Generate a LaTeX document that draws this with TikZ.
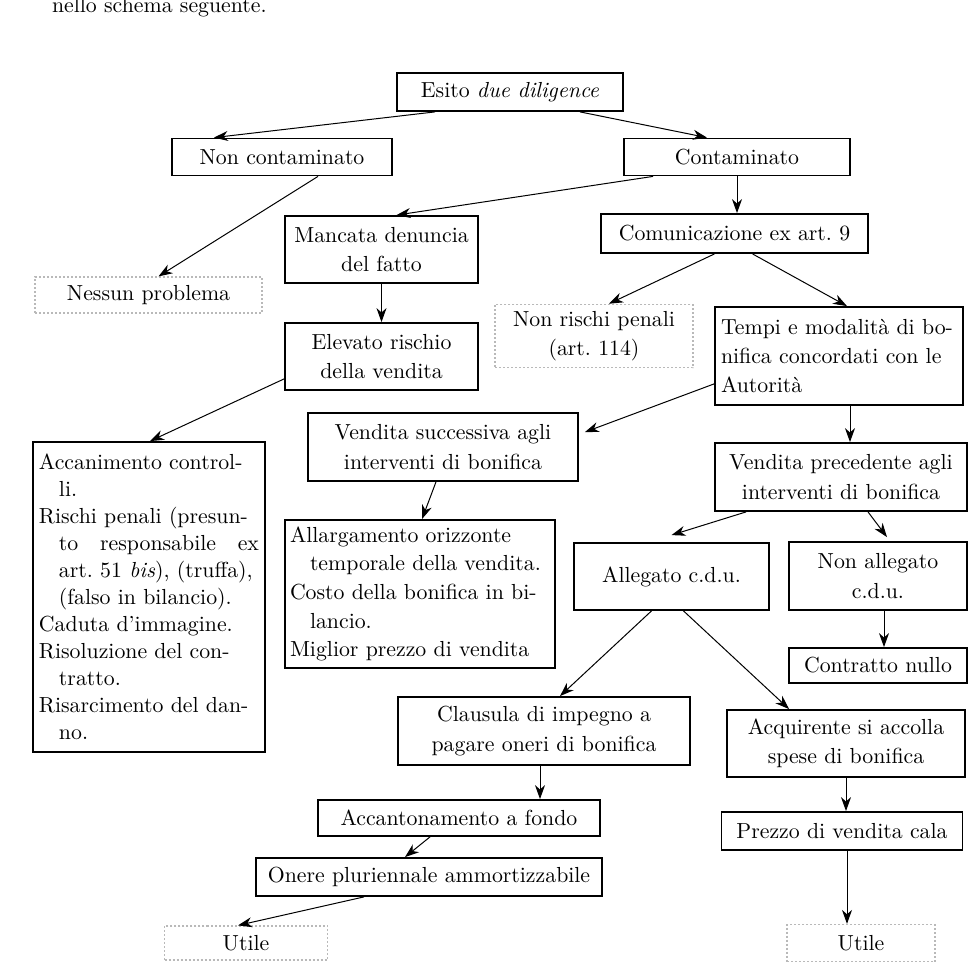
\documentclass[tikz,border=0pt]{standalone}
\usepackage{tikz}
\usetikzlibrary{arrows.meta,calc,positioning}

\tikzset{
  txt/.style={font=\fontsize{10.9}{14.7}\selectfont},
  box/.style={txt, draw, line width=0.9pt, align=center},
  faint/.style={txt, draw=gray!55, line width=0.6pt, dash pattern=on 1pt off 1pt, align=center},
  arr/.style={-{Stealth[length=7pt,width=5pt,inset=2.2pt]}, line width=0.5pt}
}

\begin{document}
\begin{tikzpicture}[x=0.5pt,y=-0.5pt]
    \useasboundingbox (0,0) rectangle (971,963);

    \node[txt, anchor=base west] (intro) at (45,13) {nello schema seguente.};

    % Top of the scheme
    \node[box, minimum width=113pt, minimum height=19pt] (esito) at (510,92) {Esito \textit{due diligence}};
    \node[box, minimum width=110pt, minimum height=18.5pt] (noncont) at (282,157) {Non contaminato};
    \node[box, minimum width=113pt, minimum height=18.5pt] (cont) at (737,157) {Contaminato};

    % Second level
    \node[box, minimum width=96.5pt, minimum height=33.5pt] (mancata) at (381.5,249.5) {Mancata denuncia\\del fatto};
    \node[box, minimum width=133.5pt, minimum height=19.5pt] (comun) at (734.5,233.5) {Comunicazione ex art.~9};
    \node[faint, minimum width=113.5pt, minimum height=18pt] (nessun) at (148.5,295) {Nessun problema};
    \node[box, minimum width=96.5pt, minimum height=33.5pt] (elevato) at (381.5,356.5) {Elevato rischio\\della vendita};
    \node[faint, minimum width=99pt, minimum height=31pt] (nonrischi) at (594,336) {Non rischi penali\\(art.~114)};
    \node[box, text width=118pt, inner xsep=3pt, minimum height=49pt, align=left] (tempi) at (839,356)
        {Tempi e modalità di bo-\\nifica concordati con le\\Autorità};

    % Sale before / after the clean-up
    \node[box, minimum width=135pt, minimum height=34pt] (vsucc) at (443,447) {Vendita successiva agli\\interventi di bonifica};
    \node[box, minimum width=126pt, minimum height=34pt] (vprec) at (841,477) {Vendita precedente agli\\interventi di bonifica};

    % Left column
    \node[box, text width=110pt, inner xsep=3pt, minimum height=155pt, align=left,
          font=\fontsize{10.9}{13.5}\selectfont] (accan) at (149,597)
        {Accanimento control-\\
         \hspace*{10pt}li.\\
         Rischi penali (presun-\\
         \hspace*{10pt}to\hfill responsabile\hfill ex\\
         \hspace*{10pt}art.~51 \textit{bis}), (truffa),\\
         \hspace*{10pt}(falso in bilancio).\\
         Caduta d'immagine.\\
         Risoluzione del con-\\
         \hspace*{10pt}tratto.\\
         Risarcimento del dan-\\
         \hspace*{10pt}no.};
    \node[box, text width=130pt, inner xsep=2.5pt, minimum height=74pt, align=left,
          font=\fontsize{10.9}{14.3}\selectfont] (allarg) at (420,594)
        {Allargamento orizzonte\\
         \hspace*{10pt}temporale della vendita.\\
         Costo della bonifica in bi-\\
         \hspace*{10pt}lancio.\\
         Miglior prezzo di vendita};

    % c.d.u. branch
    \node[box, minimum width=97.5pt, minimum height=33.5pt] (allegato) at (671.5,576.5) {Allegato c.d.u.};
    \node[box, minimum width=89pt, minimum height=34pt] (nonalleg) at (878,576) {Non allegato\\c.d.u.};
    \node[box, minimum width=89pt, minimum height=17.5pt] (nullo) at (878,665.5) {Contratto nullo};
    \node[box, minimum width=146pt, minimum height=34pt] (clausula) at (544,731) {Clausula di impegno a\\pagare oneri di bonifica};
    \node[box, minimum width=119pt, minimum height=33.5pt] (acquir) at (846,743.5) {Acquirente si accolla\\spese di bonifica};
    \node[box, minimum width=141pt, minimum height=18pt] (accant) at (459,818) {Accantonamento a fondo};
    \node[box, minimum width=173pt, minimum height=19pt] (onere) at (429,877) {Onere pluriennale ammortizzabile};
    \node[box, minimum width=120.5pt, minimum height=19pt] (prezzo) at (842,831) {Prezzo di vendita cala};
    \node[faint, minimum width=81.5pt, minimum height=17pt] (utileL) at (246,943) {Utile};
    \node[faint, minimum width=74pt, minimum height=18.5pt] (utileR) at (861,943) {Utile};

    % Connectors
    \draw[arr] ($(esito.south)+(-75,0)$) -- ($(noncont.north)+(-68,0)$);
    \draw[arr] ($(esito.south)+(70,0)$) -- ($(cont.north)+(-30,0)$);
    \draw[arr] ($(noncont.south)+(36,0)$) -- ($(nessun.north)+(10,0)$);
    \draw[arr] ($(cont.south west)+(30,0)$) -- ($(mancata.north)+(15,0)$);
    \draw[arr] (cont.south) -- (cont.south |- comun.north);
    \draw[arr] (mancata.south) -- (elevato.north);
    \draw[arr] ($(comun.south)+(-20,0)$) -- ($(nonrischi.north)+(15,0)$);
    \draw[arr] ($(comun.south)+(18,0)$) -- ($(tempi.north)+(8,0)$);
    \draw[arr] ($(elevato.south west)+(0,-12)$) -- ($(accan.north)+(1,0)$);
    \draw[arr] ($(tempi.south west)+(0,-22)$) -- ($(vsucc.north east)+(6,20)$);
    \draw[arr] ([xshift=5.5pt]tempi.south) -- ([xshift=5.5pt]tempi.south |- vprec.north);
    \draw[arr] ($(vsucc.south)+(-7,0)$) -- ($(allarg.north)+(2,0)$);
    \draw[arr] ($(vprec.south west)+(32,0)$) -- ($(allegato.north)+(0,-7)$);
    \draw[arr] ($(vprec.south)+(27,0)$) -- ($(nonalleg.north)+(9,-4)$);
    \draw[arr] ([xshift=3pt]nonalleg.south) -- ([xshift=3pt]nullo.north);
    \draw[arr] ($(allegato.south)+(-20,0)$) -- ($(clausula.north)+(16,0)$);
    \draw[arr] ($(allegato.south)+(12,0)$) -- ($(acquir.north west)+(63,0)$);
    \draw[arr] ([xshift=-2pt]clausula.south) -- ([xshift=-2pt]clausula.south |- accant.north);
    \draw[arr] ($(accant.south)+(-29,0)$) -- ($(onere.north)+(-24,0)$);
    \draw[arr] ($(onere.south)+(-65,0)$) -- ($(utileL.north)+(-8,0)$);
    \draw[arr] (acquir.south) -- (acquir.south |- prezzo.north);
    \draw[arr] ([xshift=2.5pt]prezzo.south) -- ([xshift=2.5pt]prezzo.south |- utileR.north);
\end{tikzpicture}
\end{document}
